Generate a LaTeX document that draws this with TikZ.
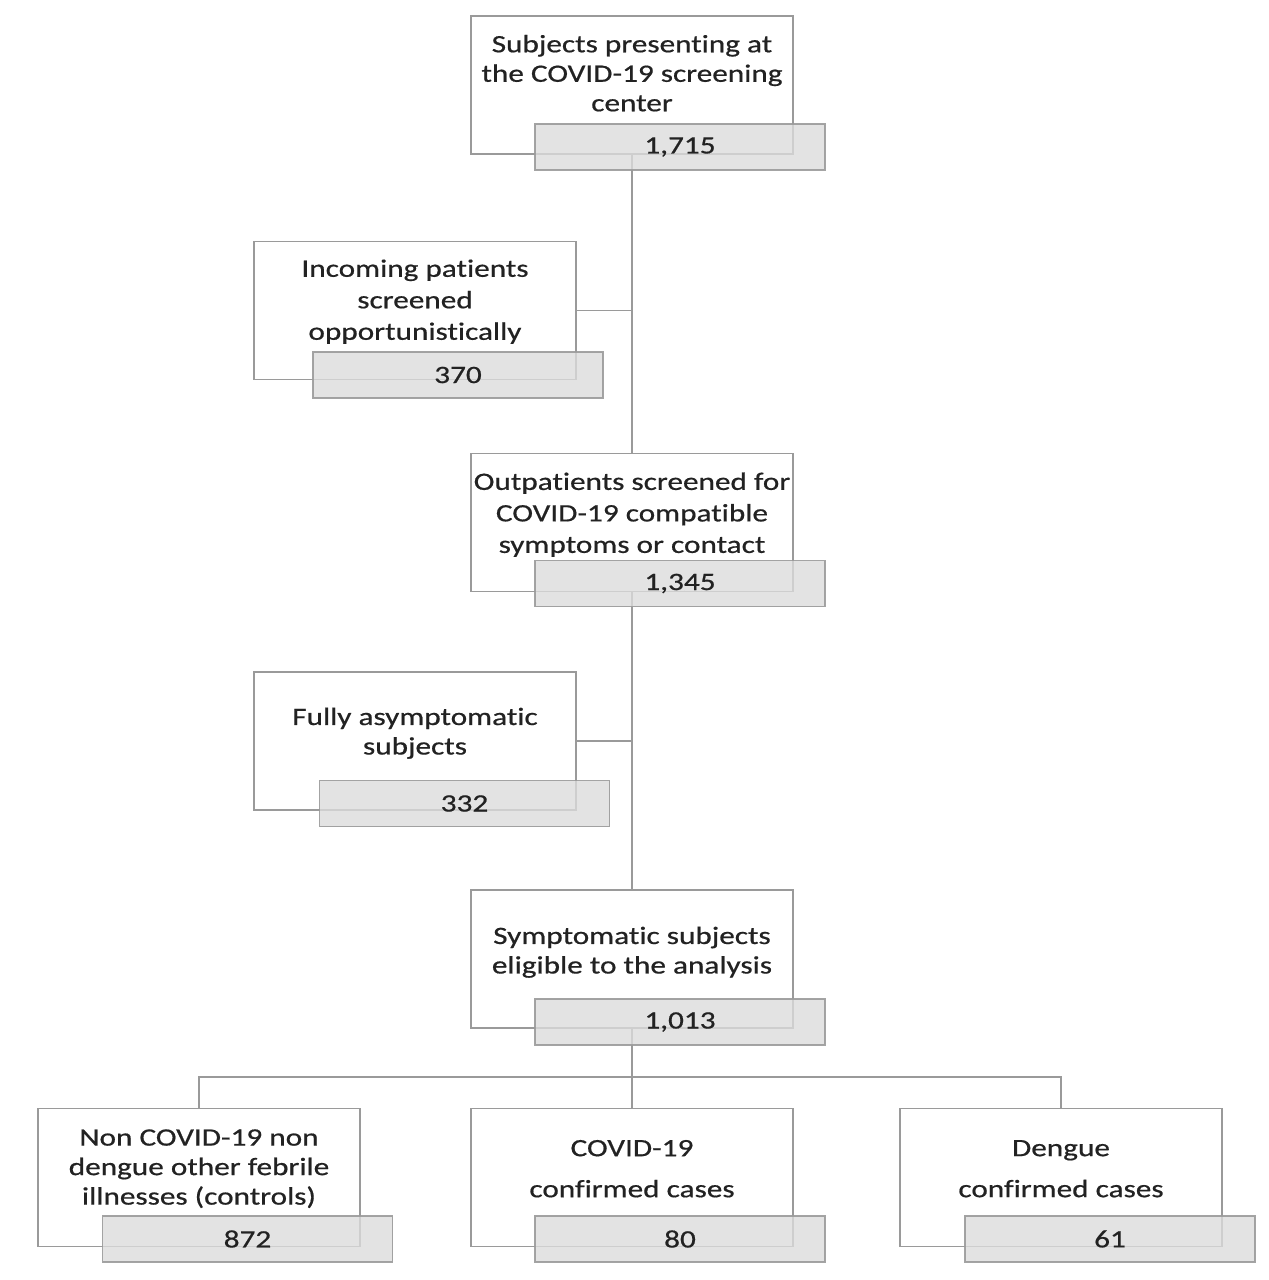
\documentclass[tikz,border=0pt]{standalone}
\usepackage{fontspec}
\setmainfont{Carlito}[FakeStretch=1.25, FakeBold=0.6, Ligatures=NoCommon]
\definecolor{boxgray}{HTML}{9A9A9A}
\definecolor{countfill}{HTML}{DCDCDC}
\definecolor{inkgray}{HTML}{222222}
\tikzset{
	infobox/.style={draw=boxgray, line width=1.6pt, fill=white, minimum width=322pt, minimum height=138pt, inner sep=0pt},
	countbox/.style={draw=boxgray, line width=1.6pt, fill=countfill, fill opacity=0.8, draw opacity=0.9, text opacity=1, minimum width=290pt, minimum height=46pt, inner sep=0pt, text=inkgray, font=\fontsize{25}{30}\selectfont},
	infotext/.style={align=center, text=inkgray, inner sep=0pt, font=\fontsize{25}{29.5}\selectfont},
	loosetext/.style={infotext, font=\fontsize{25}{31.5}\selectfont},
	widetext/.style={infotext, font=\fontsize{25}{41}\selectfont},
	link/.style={draw=boxgray, line width=1.8pt}
}
\begin{document}
\begin{tikzpicture}[x=1pt,y=-1pt]
			\useasboundingbox (0,0) rectangle (1269,1280);
			% white boxes
			\node[infobox] (w1) at (632,85) {};
			\node[infobox] (w2) at (415,310.5) {};
			\node[infobox] (w3) at (632,522.5) {};
			\node[infobox] (w4) at (415,741) {};
			\node[infobox] (w5) at (632,959) {};
			\node[infobox] (w6) at (199,1177.5) {};
			\node[infobox] (w7) at (632,1177.5) {};
			\node[infobox] (w8) at (1061,1177.5) {};
			% connectors
			\coordinate (fork) at (632,1077);
			\draw[link] (w1.south) -- (w3.north);
			\draw[link] (w2.east) -- (w2.east -| w1.south);
			\draw[link] (w3.south) -- (w5.north);
			\draw[link] (w4.east) -- (w4.east -| w3.south);
			\draw[link] (w5.south) -- (w7.north);
			\draw[link] (w6.north) |- (fork) -| (w8.north);
			% texts
			\node[infotext] (t1) at ([yshift=-58pt]w1.north) {Subjects presenting at\\the COVID-19 screening\\center};
			\node[loosetext] (t2) at ([yshift=-61pt]w2.north) {Incoming patients\\screened\\opportunistically};
			\node[loosetext] (t3) at ([yshift=-62pt]w3.north) {Outpatients screened for\\COVID-19 compatible\\symptoms or contact};
			\node[infotext] (t4) at ([yshift=-62pt]w4.north) {Fully asymptomatic\\subjects};
			\node[infotext] (t5) at ([yshift=-63pt]w5.north) {Symptomatic subjects\\eligible to the analysis};
			\node[infotext] (t6) at ([yshift=-61pt]w6.north) {Non COVID-19 non\\dengue other febrile\\illnesses (controls)};
			\node[widetext] (t7) at ([yshift=-61pt]w7.north) {COVID-19\\confirmed cases};
			\node[widetext] (t8) at ([yshift=-61pt]w8.north) {Dengue\\confirmed cases};
			% counts
			\node[countbox] (g1) at (680,147) {1,715};
			\node[countbox] (g2) at (458,375) {370};
			\node[countbox] (g3) at (680,583.5) {1,345};
			\node[countbox] (g4) at (464.5,803.5) {332};
			\node[countbox] (g5) at (680,1022) {1,013};
			\node[countbox] (g6) at (247.5,1239) {872};
			\node[countbox] (g7) at (680,1239) {80};
			\node[countbox] (g8) at (1110,1239) {61};
		\end{tikzpicture}
\end{document}
